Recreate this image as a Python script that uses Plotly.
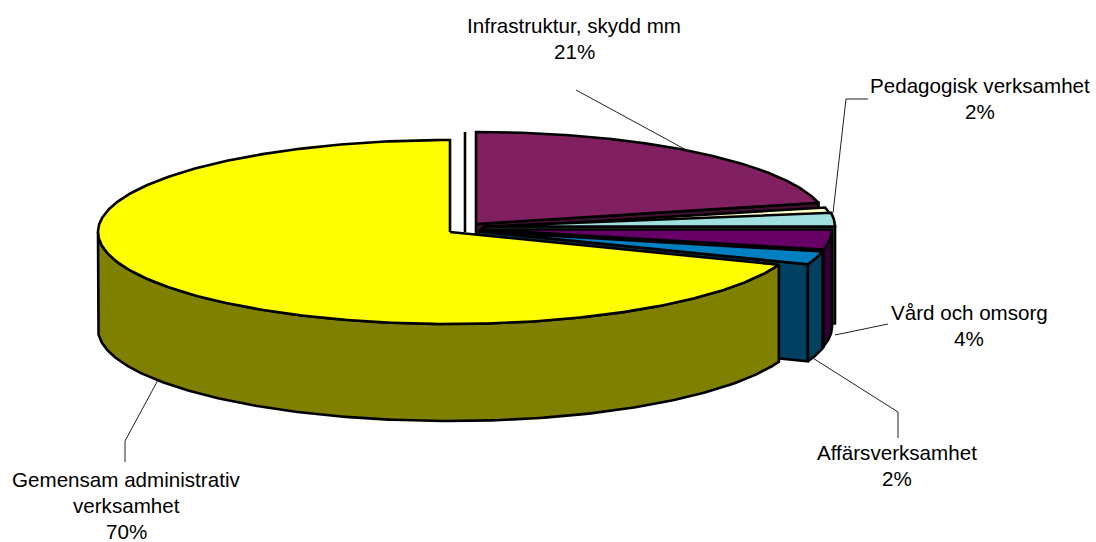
import numpy as np
import plotly.graph_objects as go

# ---- data ----
slice_names = ["Infrastruktur, skydd mm", "", "Pedagogisk verksamhet", "Vård och omsorg", "Affärsverksamhet",
               "Gemensam administrativ<br>verksamhet"]
slice_shares = [21.3, 1.2, 2.5, 3.5, 2.3, 69.2]
slice_labels_pct = ["21%", "", "2%", "4%", "2%", "70%"]
top_colors = ["#802060", "#FFFFC8", "#A0E0E0", "#660066", "#0080C0", "#FFFF00"]
side_colors = ["#401030", "#808064", "#507070", "#330033", "#004060", "#808000"]

# ---- projection geometry of the drawn pie, in page pixels ----
W, H = 1096, 542
RX, RY, DEPTH = 352, 92, 97
centers = [(476, 224), (482, 228), (483, 226.5), (480, 229.5), (479, 231.5), (450, 232)]
divider_center = (465, 224)
label_anchor = [(574, 25), None, (980, 85), (969, 312), (897, 452), (126, 479)]
LINE_STEP = 26.2
leaders = [
    [(576, 90), (690, 152)],
    None,
    [(868, 99), (846, 99), (833, 213)],
    [(888, 324), (835, 335)],
    [(808, 355), (898, 412), (898, 438)],
    [(158, 380), (125, 441), (125, 462)],
]

fig = go.Figure()


def rim(c, t):
    t = np.radians(t)
    return c[0] + RX * np.sin(t), c[1] - RY * np.cos(t)


def poly(xs, ys, color, width=2.6):
    fig.add_trace(go.Scatter(x=list(xs), y=list(ys), mode="lines", fill="toself", fillcolor=color,
                             line=dict(color="black", width=width), hoverinfo="skip", showlegend=False))


edges = np.cumsum([0] + slice_shares) * 360 / sum(slice_shares)

# zero-width divider next to the 12 o'clock gap
dx, dy = rim(divider_center, 0)
fig.add_trace(go.Scatter(x=[dx, dx], y=[dy, divider_center[1] + 8], mode="lines",
                         line=dict(color="black", width=2.6), hoverinfo="skip", showlegend=False))

for i in range(len(slice_shares)):
    c = centers[i]
    t1, t2 = edges[i], edges[i + 1]
    # cut face at the clockwise end
    if 0 < t2 < 180:
        rx_, ry_ = rim(c, t2)
        poly([c[0], rx_, rx_, c[0], c[0]], [c[1], ry_, ry_ + DEPTH, c[1] + DEPTH, c[1]], side_colors[i])
    # outer wall
    a, b = max(t1, 90), min(t2, 270)
    if a < b:
        ts = np.linspace(a, b, 200)
        xs, ys = rim(c, ts)
        poly(np.r_[xs, xs[::-1], xs[0]], np.r_[ys, ys[::-1] + DEPTH, ys[0]], side_colors[i])
    # top face
    ts = np.linspace(t1, t2, 400)
    xs, ys = rim(c, ts)
    poly(np.r_[c[0], xs, c[0]], np.r_[c[1], ys, c[1]], top_colors[i])

# leader lines
for pts in leaders:
    if pts:
        fig.add_trace(go.Scatter(x=[p[0] for p in pts], y=[p[1] for p in pts], mode="lines",
                                 line=dict(color="#222222", width=1), hoverinfo="skip", showlegend=False))

# labels, one annotation per line for exact spacing
annotations = []
for name, pct, anchor in zip(slice_names, slice_labels_pct, label_anchor):
    if not anchor:
        continue
    for k, line in enumerate(name.split("<br>") + [pct]):
        annotations.append(dict(x=anchor[0], y=anchor[1] + k * LINE_STEP, text=line, showarrow=False,
                                xanchor="center", yanchor="middle",
                                font=dict(family="Liberation Sans, Arial, sans-serif", size=20.6, color="black")))

fig.update_layout(width=W, height=H, margin=dict(l=0, r=0, t=0, b=0), paper_bgcolor="white", plot_bgcolor="white",
                  xaxis=dict(range=[0, W], visible=False, fixedrange=True),
                  yaxis=dict(range=[H, 0], visible=False, fixedrange=True),
                  annotations=annotations, showlegend=False)
fig.write_html("out.html", config=dict(displayModeBar=False),
               post_script="document.body.style.margin='0';document.documentElement.style.overflow='hidden';")
